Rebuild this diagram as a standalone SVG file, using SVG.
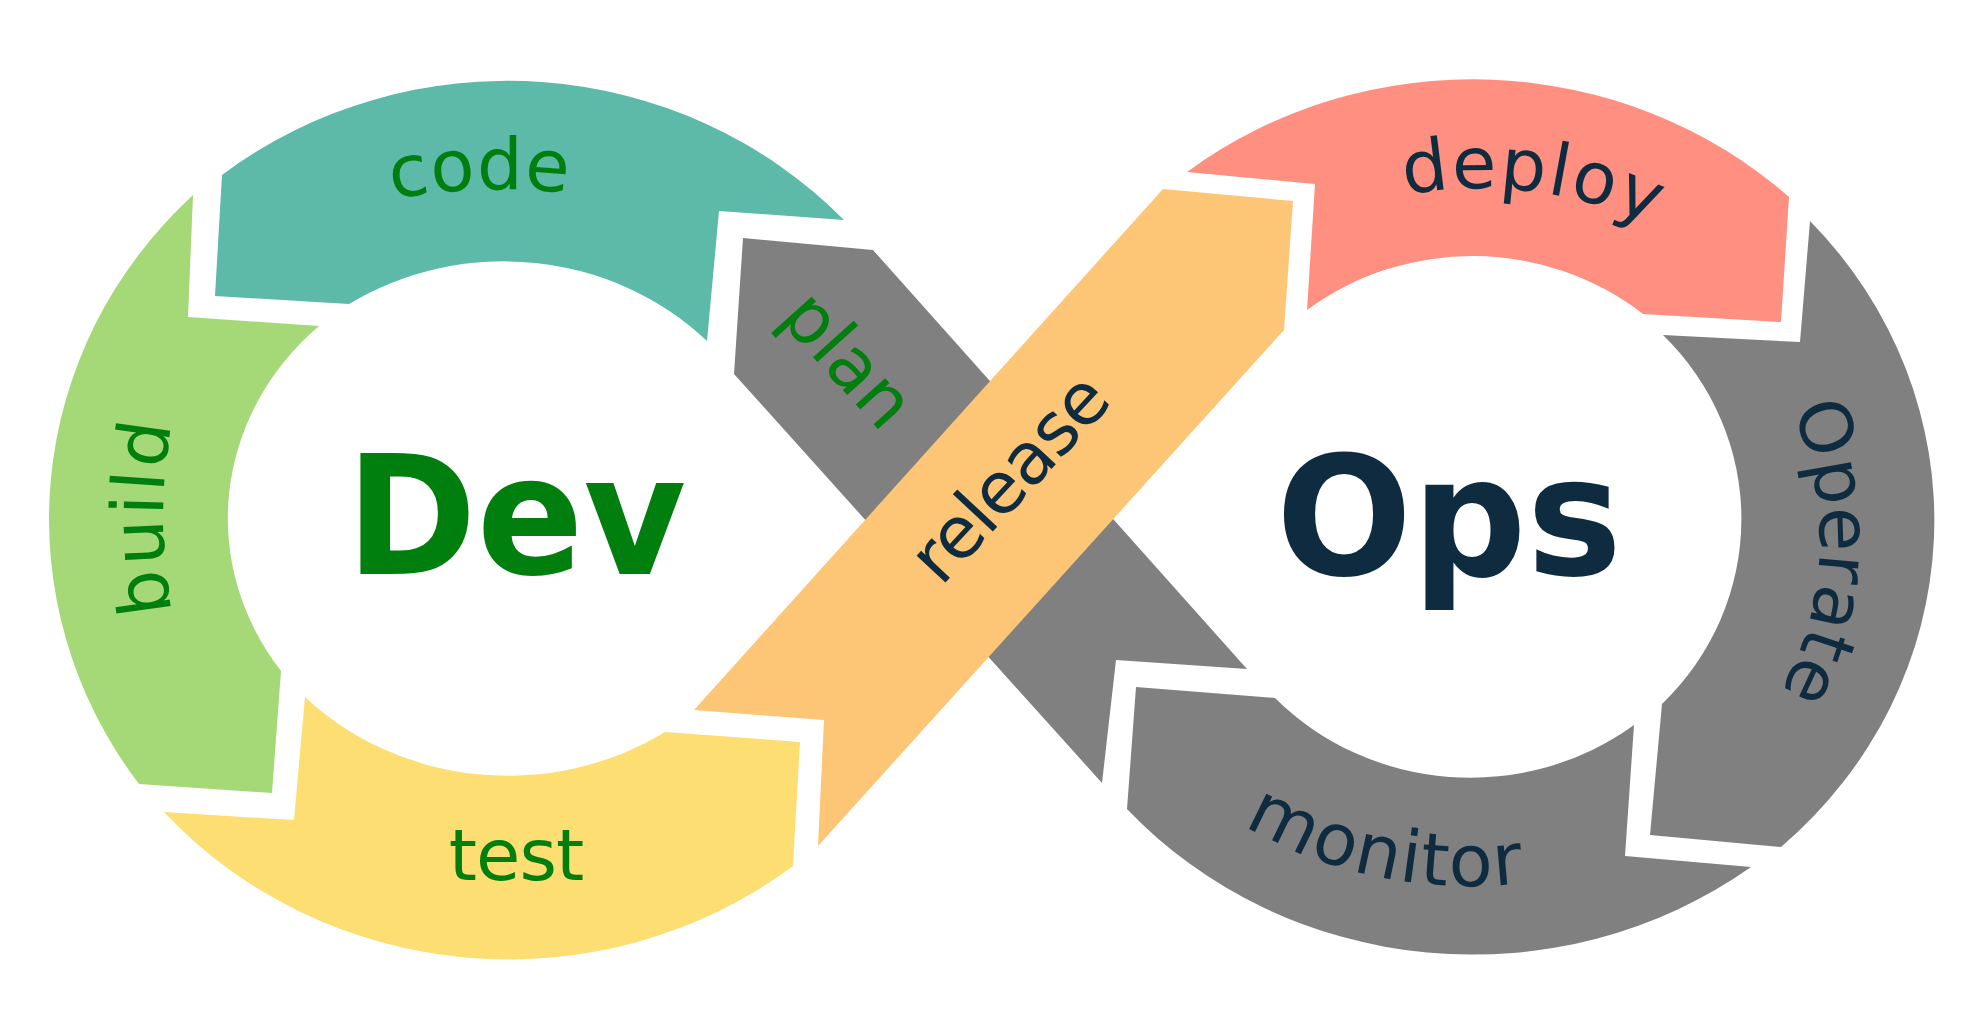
<svg xmlns="http://www.w3.org/2000/svg" width="1982" height="1020" viewBox="0 0 1982 1020">
<style>
.lbl{font-family:"DejaVu Sans","Liberation Sans",sans-serif;font-size:72px;font-weight:400;font-style:normal}
.big{font-family:"DejaVu Sans","Liberation Sans",sans-serif;font-size:166px;font-weight:700}
.g{fill:#007F0E}
.n{fill:#0E2B40}
</style>
<defs>
<path id="pCode" d="M392,199 A450,330 0 0 1 650,208"/>
<path id="pDeploy" d="M1405,195 A375,332 0 0 1 1700,251"/>
<path id="pMonitor" d="M1244,825 A408,366 0 0 0 1600,867"/>
<path id="pBuild" d="M178,640 A357,430 0 0 1 178,394"/>
<path id="pOperate" d="M1776,380 A350,330 0 0 1 1763,720"/>
</defs>
<rect width="1982" height="1020" fill="#FFFFFF"/>
<g id="code">
<path fill="#5DB9A8" d="M222,175 A465,448 0 0 1 844,220 L719,211 L707,341 A284,264 0 0 0 349,304 L215,296 Z"/>
<text class="lbl g" letter-spacing="1"><textPath href="#pCode">code</textPath></text>
</g>
<g id="build">
<path fill="#A5D877" d="M139,784 A465,448 0 0 1 193,195 L188,317 L319,326 A284,262 0 0 0 281,671 L272,793 Z"/>
<text class="lbl g" letter-spacing="3" text-anchor="middle"><textPath href="#pBuild" startOffset="50%">build</textPath></text>
</g>
<g id="test">
<path fill="#FDDE72" d="M164,812 L294,820 L305,697 A284,262 0 0 0 665,732 L800,742 L793,866 A465,448 0 0 1 164,812 Z"/>
<text class="lbl g" x="516" y="880" text-anchor="middle" letter-spacing="-1">test</text>
</g>
<g id="deploy">
<path fill="#FF8F80" d="M1187,172 L1315,184 L1307,310 A272,262 0 0 1 1643,314 L1781,322 L1789,197 A465,440 0 0 0 1187,172 Z"/>
<text class="lbl n" letter-spacing="2"><textPath href="#pDeploy">deploy</textPath></text>
</g>
<g id="operate">
<path fill="#808080" d="M1663,335 L1800,342 L1810,221 A465,440 0 0 1 1781,847 L1650,835 L1662,704 A272,262 0 0 0 1663,335 Z"/>
<text class="lbl n" text-anchor="middle"><textPath href="#pOperate" startOffset="50%">Operate</textPath></text>
</g>
<g id="monitor">
<path fill="#808080" d="M1136,687 L1275,698 A272,262 0 0 0 1634,725 L1625,856 L1751,867 A465,440 0 0 1 1127,809 Z"/>
<text class="lbl n" letter-spacing="1.5"><textPath href="#pMonitor">monitor</textPath></text>
</g>
<g id="plan">
<polygon fill="#808080" points="743,238 873,250 1247,669 1116,660 1102,783 734,374"/>
<text class="lbl g" transform="translate(830,376) rotate(48)" text-anchor="middle">plan</text>
</g>
<g id="release">
<polygon fill="#FDC576" points="1163,189 1293,201 1284,330 818,846 824,720 694,710"/>
<text class="lbl n" transform="translate(1027,495) rotate(-47)" text-anchor="middle" letter-spacing="-1.5">release</text>
</g>
<g id="dev">
<text class="big g" x="346" y="574" textLength="340" lengthAdjust="spacingAndGlyphs">Dev</text>
</g>
<g id="ops">
<text class="big n" x="1276" y="575" textLength="346" lengthAdjust="spacingAndGlyphs">Ops</text>
</g>
<g id="connectors"/>
</svg>
